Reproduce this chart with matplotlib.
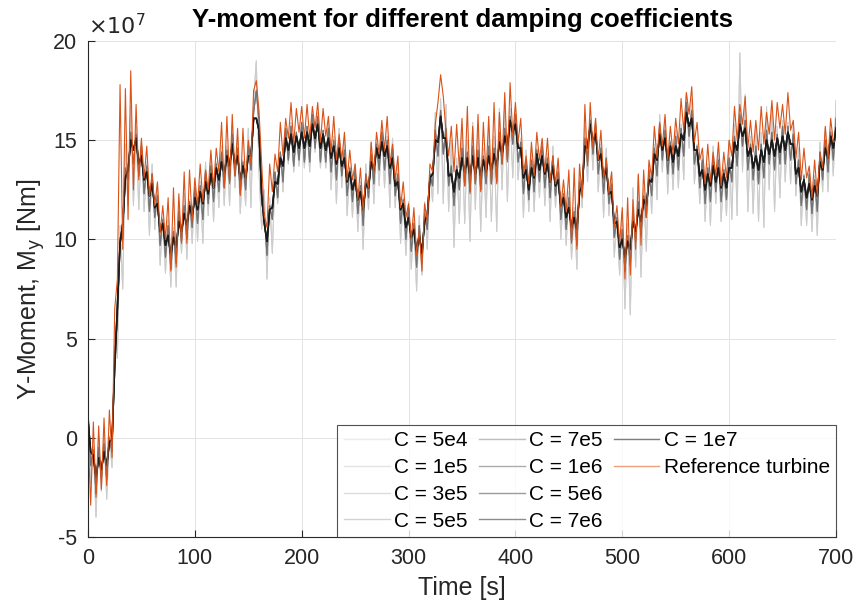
import numpy as np
import matplotlib
matplotlib.use("Agg")
import matplotlib.pyplot as plt
from matplotlib.lines import Line2D

# sample times [s], one value every 2.5 s
time_s = np.arange(0, 700.1, 2.5)

# Y-moment traces, in units of 1e7 Nm
ref_turbine = [
    0.2, -3.4, 0.8, -3.0, 0.6, -2.6, 1.0, -2.4, 1.4, -1.0,
    6.5, 8.0, 17.8, 9.5, 17.6, 11.0, 18.5, 12.5, 16.8, 13.0,
    15.1, 13.1, 14.7, 12.2, 13.3, 11.7, 12.9, 10.3, 11.7, 10.0,
    12.1, 8.4, 12.6, 8.6, 12.3, 9.8, 13.4, 9.8, 13.5, 10.9,
    13.1, 11.7, 13.8, 11.9, 13.5, 12.5, 14.5, 12.6, 14.6, 13.4,
    15.9, 12.6, 16.2, 12.8, 16.3, 13.2, 15.6, 12.2, 15.6, 12.9,
    15.0, 13.8, 17.5, 18.0, 16.5, 13.8, 11.2, 10.6, 13.8, 12.4,
    14.3, 13.4, 15.9, 14.2, 16.1, 15.1, 16.9, 14.8, 16.6, 15.4,
    16.7, 15.1, 16.8, 15.1, 16.7, 15.6, 16.9, 14.9, 16.6, 15.2,
    16.2, 14.4, 16.2, 14.0, 15.3, 14.0, 15.4, 13.0, 14.5, 13.0,
    13.8, 12.0, 13.6, 11.4, 13.2, 12.6, 14.9, 13.3, 15.4, 14.3,
    16.0, 14.5, 16.2, 13.8, 14.8, 13.0, 14.2, 11.6, 12.9, 11.1,
    11.8, 10.0, 11.6, 9.2, 10.5, 8.4, 11.8, 10.9, 13.8, 13.4,
    15.8, 16.9, 18.3, 17.2, 15.4, 14.2, 15.7, 13.4, 15.8, 13.6,
    16.1, 12.7, 16.7, 12.3, 15.7, 12.8, 16.3, 12.4, 15.9, 13.2,
    16.2, 12.8, 16.9, 12.8, 16.4, 13.8, 17.4, 13.9, 17.9, 15.2,
    16.9, 14.9, 16.1, 13.3, 14.2, 12.8, 14.9, 13.2, 15.4, 14.0,
    15.1, 13.4, 15.1, 12.9, 14.2, 12.8, 14.1, 11.6, 13.0, 11.4,
    13.5, 9.8, 13.6, 9.5, 13.8, 12.1, 16.8, 13.7, 16.9, 14.6,
    16.1, 14.0, 15.5, 13.0, 14.0, 12.3, 13.4, 10.6, 11.7, 9.8,
    11.6, 8.0, 12.1, 8.2, 12.0, 9.5, 13.3, 9.7, 13.5, 11.1,
    14.0, 13.1, 15.7, 14.1, 15.9, 14.7, 16.3, 14.0, 15.7, 14.3,
    16.1, 14.8, 17.1, 15.5, 17.4, 16.3, 17.7, 14.9, 15.9, 14.0,
    14.6, 12.8, 14.8, 12.9, 14.4, 13.2, 14.9, 12.7, 14.4, 13.1,
    15.0, 14.2, 16.7, 15.0, 16.8, 15.8, 17.2, 14.6, 16.0, 14.4,
    16.0, 14.5, 16.7, 14.8, 16.4, 15.3, 17.0, 15.0, 16.9, 15.6,
    16.8, 15.3, 17.4, 15.5, 16.0, 14.1, 15.4, 13.0, 14.6, 13.1,
    13.7, 12.1, 14.0, 12.2, 14.4, 13.6, 15.7, 14.0, 16.1, 14.9,
    15.0,
]

# low damping (C = 5e4 .. 3e5): large spikes
soft_damp = [
    1.7, -2.3, -0.4, -4.0, 0.0, -2.7, 0.3, -3.1, 0.1, -1.5,
    5.0, 4.0, 10.7, 7.5, 14.8, 11.7, 16.7, 11.7, 15.7, 11.5,
    15.0, 11.4, 13.9, 10.2, 13.8, 10.5, 12.8, 8.7, 11.1, 8.3,
    11.0, 7.6, 10.6, 7.6, 11.9, 9.3, 12.3, 9.0, 12.0, 9.8,
    12.9, 9.9, 12.9, 9.8, 13.9, 11.2, 14.3, 10.9, 13.9, 11.6,
    14.7, 11.7, 14.7, 11.7, 15.8, 12.6, 15.2, 11.3, 14.0, 11.7,
    15.6, 11.6, 17.0, 19.0, 13.5, 10.5, 12.5, 8.0, 12.1, 9.3,
    13.3, 11.8, 14.4, 12.4, 15.6, 13.8, 15.9, 13.4, 15.3, 13.7,
    15.8, 13.6, 15.7, 13.4, 16.3, 14.4, 16.4, 13.6, 15.4, 13.6,
    15.9, 12.5, 15.2, 11.8, 15.6, 12.6, 15.1, 11.2, 13.7, 11.1,
    13.8, 10.4, 12.9, 9.5, 13.8, 11.5, 14.9, 11.8, 14.9, 12.7,
    15.7, 12.6, 15.2, 11.6, 15.1, 11.6, 13.9, 9.8, 12.1, 9.2,
    11.9, 8.5, 11.0, 7.4, 11.2, 8.2, 11.9, 9.5, 13.4, 11.9,
    16.4, 12.3, 17.1, 11.8, 16.8, 11.4, 15.0, 9.6, 14.1, 10.8,
    15.5, 10.8, 15.0, 9.9, 15.9, 11.5, 15.8, 10.4, 14.6, 11.1,
    15.6, 10.9, 15.2, 10.4, 16.6, 12.5, 16.9, 11.9, 16.6, 13.1,
    16.6, 13.0, 15.1, 11.1, 14.5, 11.4, 14.6, 11.4, 14.6, 12.1,
    15.0, 11.7, 14.3, 10.9, 14.7, 11.6, 14.0, 10.0, 12.4, 9.7,
    12.4, 9.0, 11.6, 8.5, 13.4, 11.6, 15.7, 12.9, 16.1, 13.5,
    16.1, 12.4, 14.8, 11.1, 14.6, 11.2, 13.4, 9.1, 11.2, 8.2,
    11.4, 6.5, 10.8, 6.2, 12.6, 8.6, 13.2, 8.1, 12.6, 9.4,
    13.8, 11.3, 14.8, 12.0, 16.3, 13.4, 16.1, 12.3, 15.0, 12.5,
    15.5, 12.6, 15.8, 13.0, 17.4, 14.6, 17.1, 12.8, 14.8, 11.8,
    14.3, 10.9, 13.8, 10.7, 14.7, 11.8, 14.6, 10.9, 13.6, 11.2,
    15.0, 11.0, 15.8, 11.2, 19.4, 13.4, 17.3, 11.4, 15.2, 11.3,
    15.6, 10.9, 15.4, 10.6, 16.7, 12.5, 16.7, 11.4, 15.7, 12.1,
    16.0, 12.9, 15.9, 12.8, 15.8, 12.2, 14.6, 10.7, 13.3, 10.7,
    13.6, 10.4, 13.2, 10.2, 14.9, 12.4, 15.6, 12.4, 15.5, 13.2,
    17.0,
]

# medium damping (C = 5e5 .. 1e6)
mid_damp = [
    1.4, -1.4, -0.6, -2.8, -0.5, -2.1, -0.3, -2.1, 0.0, -0.7,
    4.1, 5.9, 10.1, 10.0, 13.6, 13.0, 15.4, 13.8, 15.3, 13.2,
    14.7, 12.3, 13.7, 11.4, 13.3, 11.1, 12.2, 9.7, 11.0, 9.1,
    10.7, 8.5, 10.4, 8.8, 11.4, 9.9, 11.7, 10.0, 11.9, 10.6,
    12.6, 10.8, 12.7, 11.0, 13.4, 11.8, 13.7, 11.9, 13.8, 12.4,
    14.4, 12.6, 14.5, 12.9, 15.3, 13.2, 14.6, 12.3, 13.9, 12.5,
    14.7, 13.5, 16.4, 17.5, 16.0, 11.8, 11.2, 9.2, 11.7, 11.0,
    13.4, 12.1, 14.4, 12.9, 15.6, 14.0, 15.7, 13.7, 15.4, 14.0,
    15.9, 13.9, 15.7, 13.9, 16.3, 14.6, 16.2, 13.9, 15.5, 13.9,
    15.6, 13.4, 15.0, 13.0, 15.1, 13.2, 14.5, 12.2, 13.6, 11.9,
    13.5, 11.3, 12.7, 10.7, 13.3, 12.1, 14.3, 12.8, 14.8, 13.5,
    15.4, 13.5, 15.0, 12.8, 14.6, 12.2, 13.3, 10.8, 12.0, 10.0,
    11.6, 9.4, 10.8, 8.6, 10.7, 8.8, 11.3, 10.5, 13.3, 12.7,
    15.5, 14.2, 16.5, 14.3, 15.6, 12.7, 13.7, 11.7, 13.7, 12.5,
    14.6, 12.7, 14.4, 12.4, 14.7, 12.8, 14.5, 12.5, 14.2, 12.8,
    14.7, 12.8, 14.6, 12.9, 15.4, 13.8, 15.6, 14.0, 16.2, 14.8,
    16.3, 13.9, 14.9, 12.3, 14.0, 12.0, 14.0, 12.4, 14.5, 12.9,
    14.7, 12.6, 14.1, 12.1, 14.2, 12.2, 13.4, 11.0, 12.3, 10.5,
    12.1, 9.9, 11.4, 9.7, 12.9, 12.2, 15.1, 13.9, 16.0, 14.3,
    15.8, 13.3, 14.6, 12.3, 14.1, 11.8, 12.8, 10.1, 11.1, 9.0,
    10.5, 8.4, 10.2, 8.7, 11.4, 9.9, 11.9, 10.2, 12.2, 11.1,
    13.5, 12.2, 14.6, 13.2, 15.8, 14.0, 15.5, 13.3, 14.9, 13.3,
    15.2, 13.5, 15.6, 14.2, 16.9, 15.2, 16.5, 13.8, 14.7, 12.6,
    14.0, 11.8, 13.6, 11.9, 14.2, 12.4, 14.0, 11.9, 13.5, 12.0,
    14.1, 12.9, 15.2, 13.7, 16.3, 14.7, 16.0, 13.5, 14.8, 13.0,
    14.7, 12.8, 14.8, 13.1, 15.5, 13.8, 15.4, 13.5, 15.3, 13.8,
    15.7, 13.8, 15.7, 14.0, 15.3, 12.8, 14.0, 11.7, 13.2, 11.5,
    13.3, 11.3, 13.0, 11.4, 14.4, 13.0, 15.0, 13.4, 15.4, 14.0,
    16.1,
]

# high damping (C = 5e6 .. 1e7): the dark core
stiff_damp = [
    0.9, -0.7, -0.9, -2.0, -1.0, -1.6, -0.7, -1.4, -0.2, -0.1,
    3.6, 6.6, 9.8, 10.8, 13.1, 13.5, 15.0, 14.5, 15.1, 13.8,
    14.2, 13.0, 13.4, 12.2, 12.8, 11.6, 11.8, 10.4, 10.8, 9.7,
    10.2, 9.2, 10.1, 9.6, 10.9, 10.4, 11.3, 10.7, 11.7, 11.2,
    12.1, 11.5, 12.4, 11.8, 12.9, 12.3, 13.3, 12.6, 13.6, 13.0,
    13.9, 13.3, 14.2, 13.7, 14.8, 13.7, 14.2, 13.0, 13.7, 13.1,
    14.2, 14.2, 16.1, 16.1, 15.5, 12.3, 10.8, 9.9, 11.5, 11.6,
    12.9, 12.8, 14.1, 13.7, 15.1, 14.5, 15.3, 14.4, 15.2, 14.6,
    15.4, 14.6, 15.4, 14.7, 15.8, 15.1, 15.8, 14.6, 15.3, 14.5,
    15.1, 14.1, 14.7, 13.8, 14.6, 13.7, 14.1, 12.9, 13.4, 12.5,
    13.0, 12.0, 12.4, 11.5, 12.8, 12.6, 13.9, 13.5, 14.6, 14.1,
    14.9, 14.2, 14.7, 13.6, 14.1, 12.7, 12.9, 11.5, 11.8, 10.6,
    11.1, 10.1, 10.5, 9.4, 10.2, 9.3, 10.9, 11.2, 13.1, 13.3,
    15.0, 14.9, 16.2, 15.1, 15.1, 13.2, 13.3, 12.4, 13.5, 13.1,
    14.1, 13.4, 14.1, 13.2, 14.2, 13.3, 14.1, 13.2, 14.0, 13.4,
    14.2, 13.5, 14.3, 13.7, 14.9, 14.3, 15.2, 14.7, 16.0, 15.4,
    15.8, 14.6, 14.6, 13.1, 13.5, 12.5, 13.6, 13.1, 14.3, 13.5,
    14.2, 13.3, 13.8, 12.9, 13.7, 12.7, 13.0, 11.7, 12.1, 11.1,
    11.6, 10.6, 11.1, 10.5, 12.4, 12.7, 14.7, 14.6, 15.8, 14.9,
    15.3, 14.0, 14.3, 13.1, 13.6, 12.3, 12.4, 10.8, 10.9, 9.6,
    10.0, 9.1, 9.9, 9.5, 10.9, 10.4, 11.5, 10.9, 12.0, 11.7,
    13.0, 12.9, 14.3, 14.0, 15.3, 14.5, 15.1, 14.0, 14.7, 13.9,
    14.7, 14.2, 15.3, 15.0, 16.4, 15.7, 16.1, 14.5, 14.5, 13.2,
    13.5, 12.5, 13.3, 12.7, 13.7, 12.9, 13.6, 12.6, 13.3, 12.6,
    13.6, 13.6, 14.9, 14.5, 15.8, 15.2, 15.6, 14.2, 14.6, 13.6,
    14.2, 13.5, 14.5, 13.9, 15.0, 14.3, 15.0, 14.2, 15.1, 14.4,
    15.2, 14.5, 15.4, 14.8, 14.8, 13.3, 13.6, 12.4, 13.0, 12.1,
    12.8, 12.0, 12.7, 12.2, 13.9, 13.5, 14.6, 14.1, 15.2, 14.6,
    15.6,
]

damping_labels = ['C = 5e4', 'C = 1e5', 'C = 3e5', 'C = 5e5', 'C = 7e5',
                  'C = 1e6', 'C = 5e6', 'C = 7e6', 'C = 1e7']
damping_series = [soft_damp, soft_damp, soft_damp, mid_damp, mid_damp,
                  mid_damp, stiff_damp, stiff_damp, stiff_damp]
line_grays = ['#e0e0e0', '#d6d6d6', '#cccccc', '#a6a6a6', '#8c8c8c',
              '#737373', '#3c3c3c', '#2a2a2a', '#1a1a1a']
line_widths = [0.7, 0.7, 0.7, 0.8, 0.8, 0.8, 1.1, 1.1, 1.1]
legend_grays = ['#ececec', '#e4e4e4', '#dcdcdc', '#d2d2d2', '#bebebe',
                '#acacac', '#9c9c9c', '#8c8c8c', '#7e7e7e']
ref_color = '#D95319'

plt.rcParams['font.family'] = ['Liberation Sans', 'DejaVu Sans']
plt.rcParams['axes.unicode_minus'] = False

fig = plt.figure(figsize=(8.57, 6.05), dpi=100)
ax = fig.add_axes([88 / 857, 68 / 605, 748 / 857, 496 / 605])

for vals, col, lw in zip(damping_series, line_grays, line_widths):
    ax.plot(time_s, vals, color=col, linewidth=lw)
ax.plot(time_s, ref_turbine, color=ref_color, linewidth=0.8)

ax.set_xlim(0, 700)
ax.set_ylim(-5, 20)
ax.set_xticks(np.arange(0, 701, 100))
ax.set_yticks(np.arange(-5, 21, 5))
ax.grid(True, color='#e3e3e3', linewidth=0.7)
ax.set_axisbelow(True)
for side in ['top', 'right']:
    ax.spines[side].set_visible(False)
for side in ['left', 'bottom']:
    ax.spines[side].set_color('#262626')
    ax.spines[side].set_linewidth(0.8)
ax.tick_params(direction='in', length=5, width=0.8, colors='#262626',
               labelsize=15.5, pad=8)

ax.set_xlabel('Time [s]', fontsize=18, color='#262626', labelpad=5)
ax.set_ylabel('Y-Moment, M$_\\mathrm{y}$ [Nm]', fontsize=18, color='#262626',
              labelpad=4)
ax.set_title('Y-moment for different damping coefficients', fontsize=18.5,
             fontweight='bold', pad=10)
ax.text(0.0, 1.004, r'$\times10^{7}$', transform=ax.transAxes, fontsize=16,
        color='#262626', ha='left', va='bottom')

# legend built from proxy lines, filled column by column like MATLAB
handles = [Line2D([], [], color=c, linewidth=1.0) for c in legend_grays]
handles.append(Line2D([], [], color='#ee9f80', linewidth=1.0))
handles.append(Line2D([], [], color='none'))
labels = damping_labels + ['Reference turbine', '']
leg = ax.legend(handles, labels, ncol=3, loc='lower right', fontsize=15,
                frameon=True, fancybox=False, borderaxespad=0.0,
                handlelength=2.2, handletextpad=0.2, columnspacing=0.55,
                labelspacing=0.38, borderpad=0.3)
leg.get_frame().set_edgecolor('#262626')
leg.get_frame().set_linewidth(0.8)

fig.savefig('out.png', dpi=100, facecolor='white')
